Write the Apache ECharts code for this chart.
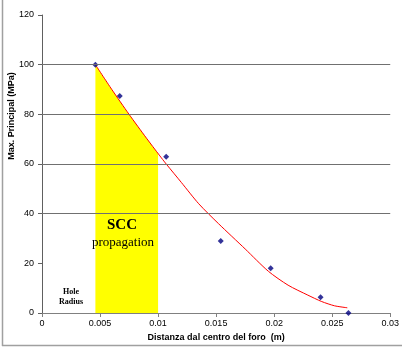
<!DOCTYPE html>
<html>
<head>
<meta charset="utf-8">
<script src="https://cdn.jsdelivr.net/npm/echarts@6/dist/echarts.min.js"></script>
<style>
  html, body { margin: 0; padding: 0; background: #fff; }
  #chart { width: 402px; height: 347px; }
</style>
</head>
<body>
<div id="chart"></div>
<script>
// measured points (blue diamonds)
const pointX = [0.0046, 0.0067, 0.0107, 0.0154, 0.0197, 0.0240, 0.0264];
const pointY = [100, 87.4, 62.9, 29, 18, 6.3, 0];

// red trend curve
const curveX = [0.0046, 0.006, 0.0075, 0.009, 0.0101, 0.0107, 0.012, 0.0135, 0.0152, 0.0175, 0.0195, 0.0212, 0.0229, 0.0241, 0.0252, 0.0263];
const curveY = [100, 90.1, 80, 70.4, 63.6, 60, 52.6, 44, 36, 25.8, 16.8, 11.2, 7.2, 4.6, 2.9, 2.1];

// yellow "SCC propagation" band under the curve
const bandX = [0.0046, 0.006, 0.0075, 0.009, 0.01];
const bandY = [100, 90.1, 80, 70.4, 64.2];

const xTicks = ["0", "0.005", "0.01", "0.015", "0.02", "0.025", "0.03"];
const yTicks = ["0", "20", "40", "60", "80", "100", "120"];
const gridLines = [40, 60, 80, 100];

const zip = (xs, ys) => xs.map((x, i) => [x, ys[i]]);

const chart = echarts.init(document.getElementById("chart"));

const labelFont = { color: "#000", fontSize: 9, fontFamily: "Arial, 'Liberation Sans', sans-serif" };

chart.setOption({
  animation: false,
  backgroundColor: "#fff",
  grid: { left: 42, right: 10, top: 15, bottom: 34 },
  xAxis: {
    type: "value",
    min: 0,
    max: 0.03,
    interval: 0.005,
    name: "Distanza dal centro del foro  (m)",
    nameLocation: "middle",
    nameGap: 14,
    nameTextStyle: { ...labelFont, fontWeight: "bold" },
    axisLine: { onZero: false, lineStyle: { color: "#808080", width: 1 } },
    axisTick: { show: true, length: 4, lineStyle: { color: "#808080" } },
    axisLabel: { ...labelFont, margin: 6, formatter: (v, i) => xTicks[i] },
    splitLine: { show: false },
  },
  yAxis: {
    type: "value",
    min: 0,
    max: 120,
    interval: 20,
    axisLine: { show: true, lineStyle: { color: "#606060", width: 1 } },
    axisTick: { show: true, length: 4, lineStyle: { color: "#606060" } },
    axisLabel: { ...labelFont, margin: 8, formatter: (v, i) => yTicks[i] },
    splitLine: { show: false },
  },
  graphic: [
    {
      type: "text",
      x: 12, y: 116,
      rotation: Math.PI / 2,
      style: {
        text: "Max. Principal (MPa)",
        fill: "#000",
        font: "bold 9px Arial, 'Liberation Sans', sans-serif",
        textAlign: "center",
        textVerticalAlign: "middle",
      },
    },
    {
      type: "text",
      x: 122, y: 225,
      style: {
        text: "SCC",
        fill: "#000",
        font: "bold 15px 'Liberation Serif', 'Times New Roman', serif",
        textAlign: "center",
        textVerticalAlign: "middle",
      },
      z: 10,
    },
    {
      type: "text",
      x: 123, y: 243,
      style: {
        text: "propagation",
        fill: "#000",
        font: "13px 'Liberation Serif', 'Times New Roman', serif",
        textAlign: "center",
        textVerticalAlign: "middle",
      },
      z: 10,
    },
    {
      type: "text",
      x: 71, y: 297,
      style: {
        text: "Hole\nRadius",
        fill: "#000",
        font: "bold 8px 'Liberation Serif', 'Times New Roman', serif",
        textAlign: "center",
        textVerticalAlign: "middle",
        lineHeight: 10,
      },
      z: 10,
    },
    { type: "line", shape: { x1: 2.5, y1: 0, x2: 2.5, y2: 346 }, style: { stroke: "#a0a0a0", lineWidth: 1.5 } },
    { type: "line", shape: { x1: 2, y1: 345.5, x2: 402, y2: 345.5 }, style: { stroke: "#a0a0a0", lineWidth: 1.5 } },
  ],
  series: [
    {
      name: "band",
      type: "line",
      data: zip(bandX, bandY),
      symbol: "none",
      smooth: 0.25,
      lineStyle: { width: 0 },
      areaStyle: { color: "#ffff00", opacity: 1 },
      z: 1,
      markLine: {
        silent: true,
        symbol: "none",
        label: { show: false },
        lineStyle: { color: "#707070", width: 1, type: "solid" },
        data: gridLines.map((v) => ({ yAxis: v })),
      },
    },
    {
      name: "trend",
      type: "line",
      data: zip(curveX, curveY),
      symbol: "none",
      smooth: 0.25,
      lineStyle: { color: "#ff0000", width: 1 },
      z: 3,
    },
    {
      name: "measured",
      type: "scatter",
      data: zip(pointX, pointY),
      symbol: "diamond",
      symbolSize: 6,
      itemStyle: { color: "#000080" },
      z: 4,
    },
  ],
});
</script>
</body>
</html>
